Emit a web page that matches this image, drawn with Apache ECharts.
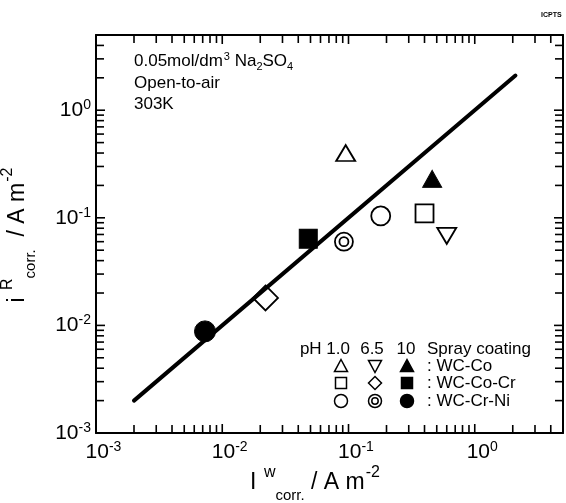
<!DOCTYPE html>
<html>
<head>
<meta charset="utf-8">
<script src="https://cdn.jsdelivr.net/npm/echarts@6/dist/echarts.min.js"></script>
<style>
html, body { margin: 0; padding: 0; background: #fff; }
#main { width: 566px; height: 503px; }
</style>
</head>
<body>
<div id="main"></div>
<script>
var FONT = '"Liberation Sans", Arial, sans-serif';

// axis range, A m^-2 (both axes)
var axisMin = 0.001;
var axisMax = 5;
var tickExponents = [-3, -2, -1, 0];
var minorSteps = [2, 3, 4, 5, 6, 7, 8, 9];

// corrosion current density: x = weight loss, y = polarization resistance
// order in each array: pH 1.0, pH 6.5, pH 10
var phLabels = ['1.0', '6.5', '10'];
var wcCoX = [0.095, 0.60, 0.46];
var wcCoY = [0.40, 0.068, 0.23];
var wcCoCrX = [0.40, 0.022, 0.048];
var wcCoCrY = [0.11, 0.018, 0.064];
var wcCrNiX = [0.18, 0.092, 0.0073];
var wcCrNiY = [0.104, 0.060, 0.0088];

// 1:1 line
var lineX = [0.002, 2.1];
var lineY = [0.002, 2.1];

var DOUBLE_CIRCLE = 'path://M0,10A10,10,0,1,1,20,10A10,10,0,1,1,0,10ZM5,10A5,5,0,1,1,15,10A5,5,0,1,1,5,10Z';

var coatings = [
    { name: 'WC-Co', xs: wcCoX, ys: wcCoY,
      symbols: ['triangle', 'triangle', 'triangle'], rotate: [0, 180, 0],
      sizes: [[19, 16], [19, 16], [19, 17]] },
    { name: 'WC-Co-Cr', xs: wcCoCrX, ys: wcCoCrY,
      symbols: ['rect', 'diamond', 'rect'], rotate: [0, 0, 0],
      sizes: [[18, 18], [25, 25], [18, 19]] },
    { name: 'WC-Cr-Ni', xs: wcCrNiX, ys: wcCrNiY,
      symbols: ['circle', DOUBLE_CIRCLE, 'circle'], rotate: [0, 0, 0],
      sizes: [[19, 19], [18, 18], [21, 21]] }
];

var chart = echarts.init(document.getElementById('main'));

var series = [];
coatings.forEach(function (c) {
    for (var k = 0; k < 3; k++) {
        var filled = k === 2;
        series.push({
            name: c.name + ' pH ' + phLabels[k],
            type: 'scatter',
            symbol: c.symbols[k],
            symbolSize: c.sizes[k],
            symbolRotate: c.rotate[k],
            data: [[c.xs[k], c.ys[k]]],
            itemStyle: {
                color: filled ? '#000' : '#fff',
                borderColor: '#000',
                borderWidth: filled ? 1 : 1.8,
                opacity: 1
            },
            z: 3
        });
    }
});

series.push({
    type: 'line',
    data: lineX.map(function (x, i) { return [x, lineY[i]]; }),
    showSymbol: false,
    lineStyle: { color: '#000', width: 4, cap: 'round' },
    z: 4
});

function powLabel(value) {
    var p = Math.log(value) / Math.LN10;
    var r = Math.round(p);
    if (Math.abs(p - r) > 1e-6) return '';
    return '{b|10}{s|' + r + '}';
}

var labelRich = {
    b: { fontSize: 21, fontFamily: FONT, color: '#000', lineHeight: 24 },
    s: { fontSize: 14, fontFamily: FONT, color: '#000', verticalAlign: 'top' }
};

function logAxis(position, showLabel) {
    return {
        type: 'log',
        logBase: 10,
        position: position,
        min: axisMin,
        max: axisMax,
        axisLine: { show: true, lineStyle: { color: '#000', width: 2 } },
        axisTick: { show: false },
        axisLabel: showLabel ? { show: true, formatter: powLabel, rich: labelRich } : { show: false },
        splitLine: { show: false }
    };
}

var xBottom = logAxis('bottom', true);
xBottom.axisLabel.margin = 7;
xBottom.axisLabel.padding = [0, 0, 0, 15];
var yLeft = logAxis('left', true);
yLeft.axisLabel.margin = 5;

var nameRich = {
    m: { fontSize: 23, fontFamily: FONT, color: '#000', lineHeight: 40 },
    sp: { fontSize: 16, fontFamily: FONT, color: '#000', verticalAlign: 'top', padding: [2, 0, 0, 1] },
    sb: { fontSize: 15, fontFamily: FONT, color: '#000', verticalAlign: 'bottom' }
};

var noteRich = {
    t: { fontSize: 17, fontFamily: FONT, color: '#000', lineHeight: 26 },
    sp: { fontSize: 11, fontFamily: FONT, color: '#000', verticalAlign: 'top', padding: [3, 0, 0, 1] },
    sb: { fontSize: 11, fontFamily: FONT, color: '#000', verticalAlign: 'bottom', padding: [0, 0, 2, 0] }
};

// legend block drawn inside the plot
var legendCols = [341, 375, 407];
var legendRows = [366, 383, 401];
var legendShapes = [['up', 'down', 'up'], ['rect', 'diamond', 'rect'], ['circle', 'double', 'circle']];

function legendSymbol(shape, filled, cx, cy) {
    var r = 6.5;
    var st = { fill: filled ? '#000' : '#fff', stroke: '#000', lineWidth: 1.5 };
    if (shape === 'up') {
        return { type: 'polygon', shape: { points: [[cx, cy - r], [cx + r, cy + r * 0.85], [cx - r, cy + r * 0.85]] }, style: st };
    }
    if (shape === 'down') {
        return { type: 'polygon', shape: { points: [[cx - r, cy - r * 0.85], [cx + r, cy - r * 0.85], [cx, cy + r]] }, style: st };
    }
    if (shape === 'rect') {
        return { type: 'rect', shape: { x: cx - 5.5, y: cy - 5.5, width: 11, height: 11 }, style: st };
    }
    if (shape === 'diamond') {
        return { type: 'polygon', shape: { points: [[cx, cy - r], [cx + r, cy], [cx, cy + r], [cx - r, cy]] }, style: st };
    }
    if (shape === 'double') {
        return { type: 'group', children: [
            { type: 'circle', shape: { cx: cx, cy: cy, r: r }, style: { fill: '#fff', stroke: '#000', lineWidth: 1.5 } },
            { type: 'circle', shape: { cx: cx, cy: cy, r: 3.2 }, style: { fill: '#fff', stroke: '#000', lineWidth: 1.5 } }
        ] };
    }
    return { type: 'circle', shape: { cx: cx, cy: cy, r: r }, style: st };
}

function txt(s, x, y, align, size) {
    return { type: 'text', style: { text: s, x: x, y: y, align: align, verticalAlign: 'middle', fontSize: size, fontFamily: FONT, fill: '#000' } };
}

var graphics = [];
legendShapes.forEach(function (row, i) {
    row.forEach(function (shape, j) {
        graphics.push(legendSymbol(shape, j === 2, legendCols[j], legendRows[i]));
    });
    graphics.push(txt(': ' + coatings[i].name, 427, legendRows[i], 'left', 17));
});
graphics.push(
    txt('pH ' + phLabels[0], 350, 349, 'right', 17),
    txt(phLabels[1], 372, 349, 'center', 17),
    txt(phLabels[2], 406, 349, 'center', 17),
    txt('Spray coating', 427, 349, 'left', 17),
    // solution conditions
    { type: 'text', style: { text: '{t|0.05mol/dm}{sp|3}{t| Na}{sb|2}{t|SO}{sb|4}', rich: noteRich, x: 134, y: 61, verticalAlign: 'middle' } },
    txt('Open-to-air', 134, 83, 'left', 17),
    txt('303K', 134, 104, 'left', 17),
    // axis names
    { type: 'text', style: { text: '{m|I }{sp|w}{sb|corr.}{m| / A m}{sp|-2}', rich: nameRich, x: 315, y: 483, align: 'center', verticalAlign: 'middle' } },
    { type: 'text', x: 18, y: 235, rotation: Math.PI / 2,
      style: { text: '{m|i }{sp|R}{sb|corr.}{m|  / A m}{sp|-2}', rich: nameRich, x: 0, y: 0, align: 'center', verticalAlign: 'middle' } },
    { type: 'text', style: { text: 'ICPTS', x: 541, y: 15, verticalAlign: 'middle', fontSize: 7, fontWeight: 'bold', fontFamily: FONT, fill: '#000' } }
);

var option = {
    backgroundColor: '#fff',
    animation: false,
    grid: { left: 96, right: 1, top: 35, bottom: 70 },
    xAxis: [xBottom, logAxis('top', false)],
    yAxis: [yLeft, logAxis('right', false)],
    series: series,
    graphic: graphics
};

chart.setOption(option);

// tick marks: decades and 2..9, pointing inward on all four sides,
// placed through the axes' own scales and drawn as thin filled bars
var tickValues = [];
var tickMajor = [];
tickExponents.forEach(function (e) {
    var base = Math.pow(10, e);
    [1].concat(minorSteps).forEach(function (m) {
        var v = m * base;
        if (v > axisMin && v < axisMax) {
            tickValues.push(v);
            tickMajor.push(m === 1);
        }
    });
});

var xLeftPx = chart.convertToPixel({ xAxisIndex: 0 }, axisMin);
var xRightPx = chart.convertToPixel({ xAxisIndex: 0 }, axisMax);
var yBottomPx = chart.convertToPixel({ yAxisIndex: 0 }, axisMin);
var yTopPx = chart.convertToPixel({ yAxisIndex: 0 }, axisMax);
var W = 1.6;

tickValues.forEach(function (v, i) {
    var L = tickMajor[i] ? 9 : 8;
    var px = chart.convertToPixel({ xAxisIndex: 0 }, v);
    var py = chart.convertToPixel({ yAxisIndex: 0 }, v);
    var fill = { fill: '#000' };
    graphics.push(
        { type: 'rect', shape: { x: px - W / 2, y: yBottomPx - L, width: W, height: L }, style: fill },
        { type: 'rect', shape: { x: px - W / 2, y: yTopPx, width: W, height: L }, style: fill },
        { type: 'rect', shape: { x: xLeftPx, y: py - W / 2, width: L, height: W }, style: fill },
        { type: 'rect', shape: { x: xRightPx - L, y: py - W / 2, width: L, height: W }, style: fill }
    );
});
graphics.forEach(function (g) { g.silent = true; g.z = 10; });

chart.setOption({ graphic: graphics });
</script>
</body>
</html>
